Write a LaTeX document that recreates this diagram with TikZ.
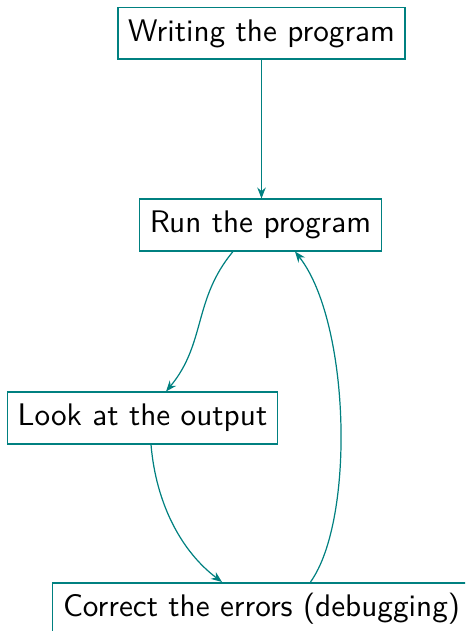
\documentclass[tikz,border=0pt]{standalone}
\usetikzlibrary{arrows.meta,calc}
\begin{document}
\begin{tikzpicture}[x=0.33pt,y=-0.33pt,
  box/.style={draw=teal, text=black, font=\sffamily\fontsize{10.3}{12}\selectfont, inner xsep=3.4pt, inner ysep=4pt, text height=7pt, text depth=2pt, line width=0.5pt},
  conn/.style={draw=teal, line width=0.4pt, -{Stealth[length=3.6pt,width=2.8pt]}}]
\useasboundingbox (0,0) rectangle (465,631);
\clip (0,0) rectangle (465,631);
\node[box] (w) at (261.5,33.5) {Writing the program};
\node[box] (r) at (260.5,225) {Run the program};
\node[box] (l) at (142.5,418) {Look at the output};
\node[box] (c) at (261.5,608.5) {Correct the errors (debugging)};
\draw[conn] (w.south) -- (w.south |- r.north);
\draw[conn] ($(r.south)+(-27.5,0)$) .. controls +(-40,48) and +(40,-48) .. ($(l.north)+(23.5,0)$);
\draw[conn] ($(l.south)+(8.5,0)$) .. controls +(5,60) and +(-40,-30) .. ($(c.north)+(-39.5,0)$);
\draw[conn] ($(c.north)+(49,0)$) .. controls +(45,-63) and +(55,70) .. ($(r.south)+(34.5,0)$);
\end{tikzpicture}
\end{document}
